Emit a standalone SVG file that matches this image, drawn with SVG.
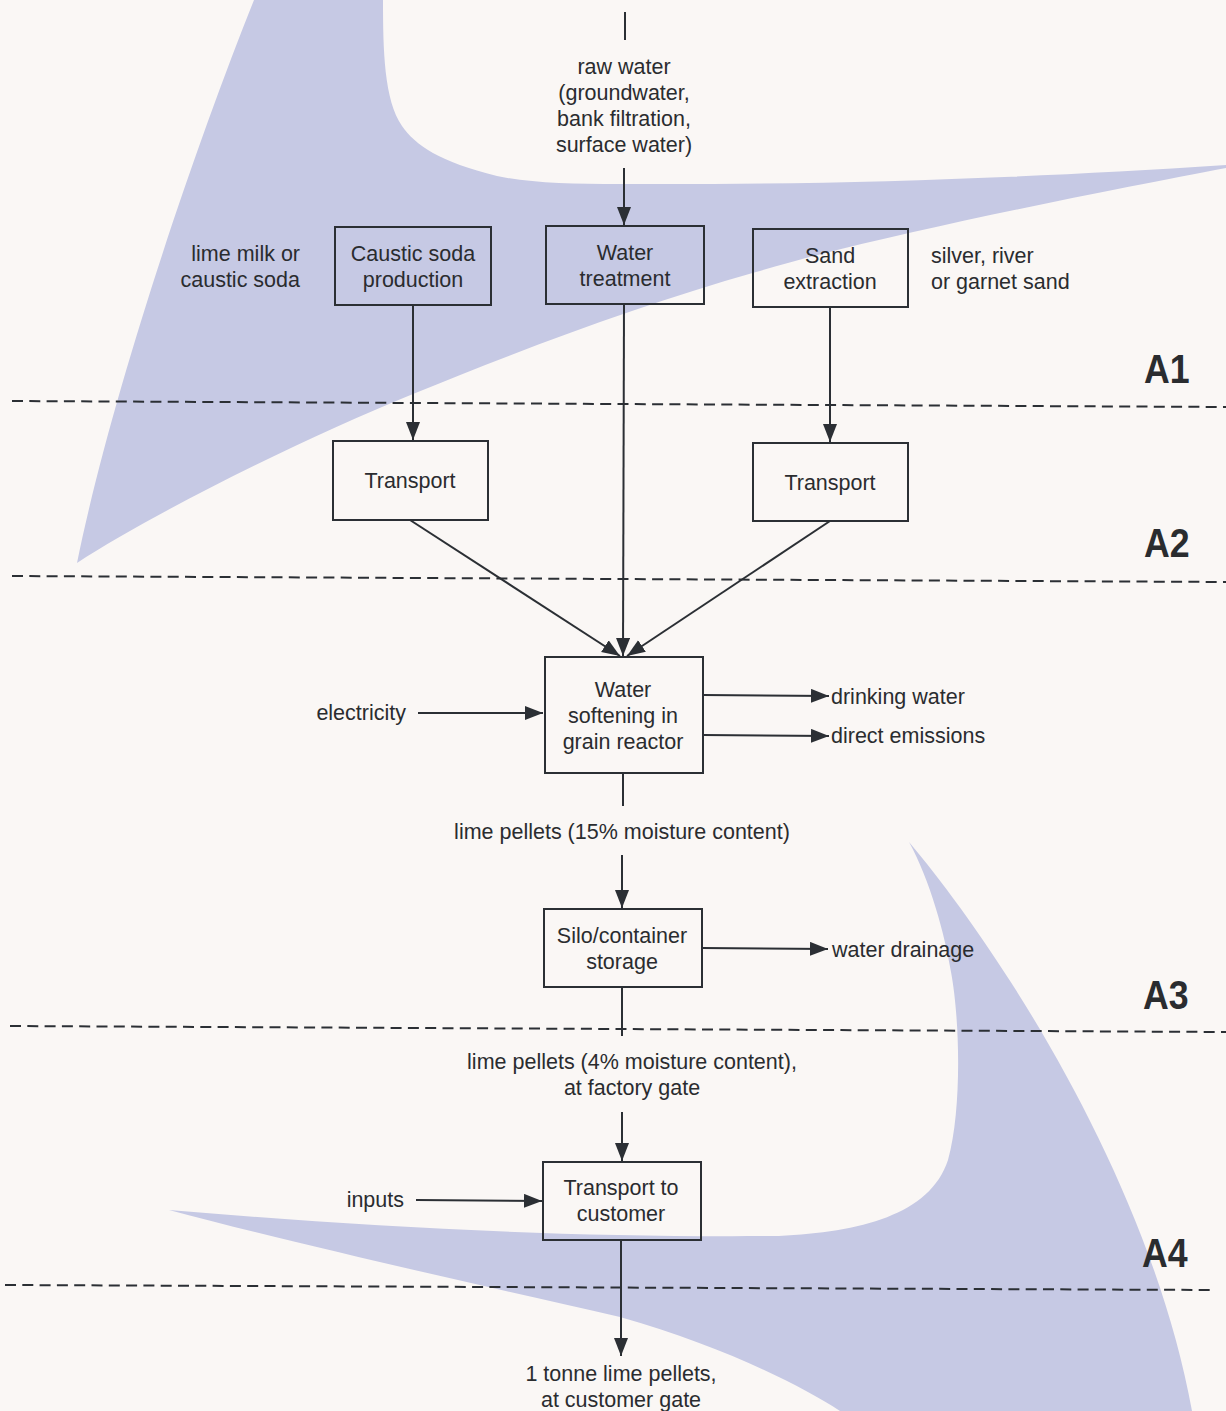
<svg xmlns="http://www.w3.org/2000/svg" width="1226" height="1411" viewBox="0 0 1226 1411">
<style>
.t{font-family:"Liberation Sans",Arial,sans-serif;font-size:21.5px;fill:#2a2c2f}
.c{text-anchor:middle}
.r{text-anchor:end}
.lbl{font-family:"Liberation Sans",Arial,sans-serif;font-size:35px;font-weight:bold;fill:#2a2c2f}
.box{fill:none;stroke:#2b2f34;stroke-width:2}
.ln{fill:none;stroke:#2b2f34;stroke-width:2}
.ar{fill:none;stroke:#2b2f34;stroke-width:2;marker-end:url(#ah)}
.dash{fill:none;stroke:#2b2f34;stroke-width:2;stroke-dasharray:11 6.3}
.blob{fill:#c6c9e4}
</style>
<defs>
<marker id="ah" markerUnits="userSpaceOnUse" markerWidth="19" markerHeight="15" refX="18" refY="7" orient="auto">
<path d="M0,0 L18,7 L0,14 z" fill="#2b2f34"/>
</marker>
</defs>
<rect x="0" y="0" width="1226" height="1411" fill="#faf7f5"/>
<g id="background-shapes">
<path class="blob" d="M254,0 L383,0 C383,50 384,100 402,126 C415,145 440,162 497,176 C530,183 570,184 620,184 C800,185 1000,180 1226,165 L1226,168 C1100,192 880,235 756,272 C640,305 520,350 413,394 C300,440 150,515 77,563 C110,400 190,160 254,0 Z"/>
<path class="blob" d="M909,842 C1000,950 1150,1180 1192,1411 L840,1411 C800,1385 720,1345 620,1317 C480,1285 300,1245 169,1210 C350,1225 550,1238 779,1236 C860,1232 930,1215 948,1160 C962,1110 960,1020 951,972 C945,935 930,880 909,842 Z"/>
</g>
<g id="phase-lines">
<line class="dash" x1="12" y1="401" x2="1226" y2="407"/>
<line class="dash" x1="12" y1="576" x2="1226" y2="582"/>
<line class="dash" x1="10" y1="1026" x2="1226" y2="1032"/>
<line class="dash" x1="5" y1="1285" x2="1212" y2="1290"/>
<text class="lbl" transform="translate(1144,383) scale(1.02,1.18)">A1</text>
<text class="lbl" transform="translate(1144,557) scale(1.02,1.18)">A2</text>
<text class="lbl" transform="translate(1143,1009) scale(1.02,1.18)">A3</text>
<text class="lbl" transform="translate(1142,1267) scale(1.02,1.18)">A4</text>
</g>
<g id="connectors">
<line class="ln" x1="625" y1="12" x2="625" y2="40"/>
<line class="ar" x1="624" y1="168" x2="624" y2="225"/>
<line class="ar" x1="413" y1="305" x2="413" y2="440"/>
<line class="ar" x1="830" y1="307" x2="830" y2="442"/>
<line class="ar" x1="624" y1="304" x2="623" y2="656"/>
<line class="ar" x1="410" y1="520" x2="620" y2="656"/>
<line class="ar" x1="830" y1="521" x2="627" y2="656"/>
<line class="ar" x1="418" y1="713" x2="543" y2="713"/>
<line class="ar" x1="703" y1="695" x2="829" y2="696"/>
<line class="ar" x1="703" y1="735" x2="829" y2="736"/>
<line class="ln" x1="623" y1="773" x2="623" y2="806"/>
<line class="ar" x1="622" y1="855" x2="622" y2="908"/>
<line class="ar" x1="702" y1="948" x2="828" y2="949"/>
<line class="ln" x1="622" y1="987" x2="622" y2="1036"/>
<line class="ar" x1="622" y1="1112" x2="622" y2="1161"/>
<line class="ar" x1="416" y1="1200" x2="542" y2="1201"/>
<line class="ar" x1="621" y1="1240" x2="621" y2="1356"/>
</g>
<g id="raw-water">
<text class="t c" x="624" y="74">raw water</text>
<text class="t c" x="624" y="100">(groundwater,</text>
<text class="t c" x="624" y="126">bank filtration,</text>
<text class="t c" x="624" y="152">surface water)</text>
</g>
<g id="lime-milk">
<text class="t r" x="300" y="261">lime milk or</text>
<text class="t r" x="300" y="287">caustic soda</text>
</g>
<g id="caustic-soda-production">
<rect class="box" x="335" y="227" width="156" height="78"/>
<text class="t c" x="413" y="261">Caustic soda</text>
<text class="t c" x="413" y="287">production</text>
</g>
<g id="water-treatment">
<rect class="box" x="546" y="226" width="158" height="78"/>
<text class="t c" x="625" y="260">Water</text>
<text class="t c" x="625" y="286">treatment</text>
</g>
<g id="sand-extraction">
<rect class="box" x="753" y="229" width="155" height="78"/>
<text class="t c" x="830" y="263">Sand</text>
<text class="t c" x="830" y="289">extraction</text>
</g>
<g id="sand-types">
<text class="t" x="931" y="263">silver, river</text>
<text class="t" x="931" y="289">or garnet sand</text>
</g>
<g id="transport-left">
<rect class="box" x="333" y="441" width="155" height="79"/>
<text class="t c" x="410" y="488">Transport</text>
</g>
<g id="transport-right">
<rect class="box" x="753" y="443" width="155" height="78"/>
<text class="t c" x="830" y="490">Transport</text>
</g>
<g id="water-softening">
<rect class="box" x="545" y="657" width="158" height="116"/>
<text class="t c" x="623" y="697">Water</text>
<text class="t c" x="623" y="723">softening in</text>
<text class="t c" x="623" y="749">grain reactor</text>
</g>
<g id="electricity">
<text class="t r" x="406" y="720">electricity</text>
</g>
<g id="drinking-water">
<text class="t" x="831" y="704">drinking water</text>
</g>
<g id="direct-emissions">
<text class="t" x="831" y="743">direct emissions</text>
</g>
<g id="lime-pellets-15">
<text class="t c" x="622" y="839">lime pellets (15% moisture content)</text>
</g>
<g id="silo-storage">
<rect class="box" x="544" y="909" width="158" height="78"/>
<text class="t c" x="622" y="943">Silo/container</text>
<text class="t c" x="622" y="969">storage</text>
</g>
<g id="water-drainage">
<text class="t" x="832" y="957">water drainage</text>
</g>
<g id="lime-pellets-4">
<text class="t c" x="632" y="1069">lime pellets (4% moisture content),</text>
<text class="t c" x="632" y="1095">at factory gate</text>
</g>
<g id="transport-to-customer">
<rect class="box" x="543" y="1162" width="158" height="78"/>
<text class="t c" x="621" y="1195">Transport to</text>
<text class="t c" x="621" y="1221">customer</text>
</g>
<g id="inputs">
<text class="t r" x="404" y="1207">inputs</text>
</g>
<g id="customer-gate">
<text class="t c" x="621" y="1381">1 tonne lime pellets,</text>
<text class="t c" x="621" y="1407">at customer gate</text>
</g>
</svg>
